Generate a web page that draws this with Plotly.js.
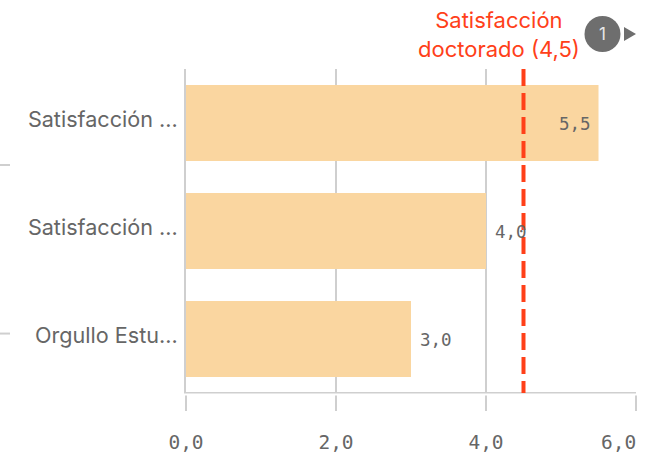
<!DOCTYPE html>
<html><head><meta charset="utf-8">
<script src="https://cdn.plot.ly/plotly-3.0.1.min.js"></script>
<style>html,body{margin:0;padding:0;background:#fff}</style></head>
<body><div id="c" style="width:659px;height:458px"></div>
<script>
var categories = ["Orgullo Estu...", "Satisfacción ...", "Satisfacción ..."];
var categoryIds = ["orgullo", "satisfaccion_a", "satisfaccion_b"];
var values = [3.0, 4.0, 5.5];
var valueLabels = ["3,0", "4,0", "5,5"];
var referenceValue = 4.5;
var referenceLabel = "Satisfacción<br>doctorado (4,5)";
var xTicks = [0, 2, 4, 6];
var xTickLabels = ["0,0", "2,0", "4,0", ""];
var lastTickLabel = "6,0";
var W = 659, H = 458, L = 186, R = 636, T = 69, B = 391.92;
function px(x){return (x - L) / (R - L);}
function py(y){return (B - y) / (B - T);}
var grey = "#cfcfcf", text = "#666666", red = "#ff4019", mono = "DejaVu Sans Mono", sans = "Inter";
var trace = {
  type: "bar", orientation: "h", x: values, y: categoryIds, width: 0.704,
  marker: {color: "#fad6a0", line: {width: 0}}, hoverinfo: "skip"
};
var valueAnnotations = values.map(function(v, i){
  var inside = v > referenceValue;
  return {text: valueLabels[i], xref: "x", yref: "y", x: v, y: categoryIds[i],
    xanchor: inside ? "right" : "left", yanchor: "middle",
    xshift: inside ? -6 : 7, yshift: -0.5, showarrow: false,
    font: {family: mono, size: 17.5, color: text}};
});
var layout = {
  width: W, height: H, showlegend: false, separators: ",.",
  paper_bgcolor: "#fff", plot_bgcolor: "#fff",
  margin: {l: L, r: W - R, t: T, b: H - B, pad: 0},
  xaxis: {range: [0, 6], tickmode: "array", tickvals: xTicks, ticktext: xTickLabels,
    showgrid: true, gridcolor: grey, gridwidth: 2, zeroline: false,
    showline: true, linecolor: grey, linewidth: 2,
    ticks: "outside", ticklen: 17, tickwidth: 2, tickcolor: grey, ticklabelstandoff: 15,
    tickfont: {family: mono, size: 19.5, color: text}},
  yaxis: {type: "category", categoryorder: "array", categoryarray: categoryIds,
    tickmode: "array", tickvals: categoryIds, ticktext: categories,
    range: [-0.49, 2.5], showgrid: false, zeroline: false,
    showline: true, linecolor: grey, linewidth: 2, ticks: "", ticklabelstandoff: 2, ticklabelshift: -4,
    tickfont: {family: sans, size: 21.6, color: text}},
  shapes: [
    {type: "line", xref: "x", yref: "paper", x0: referenceValue, x1: referenceValue, y0: 1, y1: py(393),
      line: {color: red, width: 4, dash: "17px,7px"}, layer: "above"},
    {type: "line", xref: "paper", yref: "paper", x0: px(170), x1: px(650), y0: py(394.5), y1: py(394.5),
      line: {color: "#fff", width: 2}, layer: "above"},
    {type: "line", xref: "paper", yref: "paper", x0: px(0), x1: px(10), y0: py(165), y1: py(165),
      line: {color: grey, width: 2}},
    {type: "line", xref: "paper", yref: "paper", x0: px(0), x1: px(10), y0: py(333.5), y1: py(333.5),
      line: {color: grey, width: 2}},
    {type: "circle", xref: "paper", yref: "paper", x0: px(584.5), x1: px(620.5), y0: py(16), y1: py(52),
      fillcolor: "#6e6e6e", line: {width: 0}},
    {type: "path", xref: "paper", yref: "paper",
      path: "M " + px(624) + " " + py(27) + " L " + px(636) + " " + py(34) + " L " + px(624) + " " + py(41) + " Z",
      fillcolor: "#6e6e6e", line: {width: 0}}
  ],
  annotations: [
    {text: referenceLabel, xref: "paper", yref: "paper", x: px(499), y: py(35),
      xanchor: "center", yanchor: "middle", showarrow: false, align: "center",
      font: {family: sans, size: 22, color: red}},
    {text: "1", xref: "paper", yref: "paper", x: px(602.5), y: py(34.5),
      xanchor: "center", yanchor: "middle", showarrow: false,
      font: {family: sans, size: 17, color: "#e8e8e8"}},
    {text: lastTickLabel, xref: "x", yref: "paper", x: xTicks[3], y: py(442),
      xanchor: "right", yanchor: "middle", showarrow: false, xshift: 2,
      font: {family: mono, size: 19.5, color: text}}
  ].concat(valueAnnotations)
};
Plotly.newPlot("c", [trace], layout, {displayModeBar: false, staticPlot: true});
</script></body></html>
